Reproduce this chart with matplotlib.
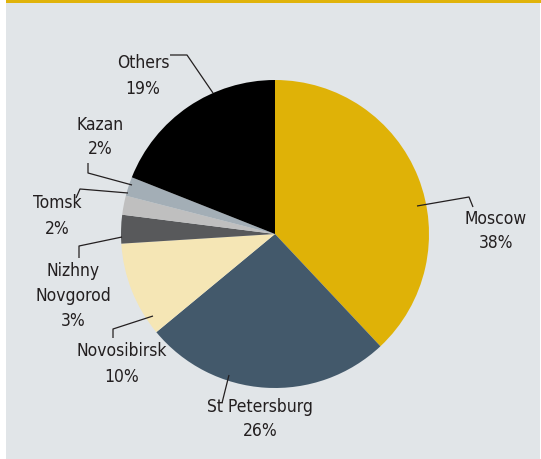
import matplotlib
matplotlib.use("Agg")
import matplotlib.pyplot as plt
import matplotlib.patches as patches

# ---------- Data ----------
cities = ["Moscow", "St Petersburg", "Novosibirsk", "Nizhny\nNovgorod", "Tomsk", "Kazan", "Others"]
shares = [38, 26, 10, 3, 2, 2, 19]
colors = ["#dfb207", "#43596b", "#f5e6b5", "#58595b", "#bfbfbf", "#a3aeb6", "#000000"]

# ---------- Style ----------
W, H = 541, 459
BG = "#e1e5e8"
GOLD = "#e0b30a"
TEXT = "#231f20"

fig = plt.figure(figsize=(W / 100, H / 100), dpi=100)
fig.patch.set_facecolor("white")
ax = fig.add_axes([0, 0, 1, 1])


def Y(py):
    # image pixel row -> data y
    return H - py


# ---------- Pie ----------
ax.pie(shares, colors=colors, startangle=90, counterclock=False,
       center=(275, Y(234)), radius=154, frame=True,
       wedgeprops=dict(linewidth=0))
ax.set_xlim(0, W)
ax.set_ylim(0, H)
ax.set_aspect("auto")
ax.axis("off")

# panel and top rule
ax.add_patch(patches.Rectangle((6, 0), W - 7, H, facecolor=BG, edgecolor="none", zorder=-2))
ax.add_patch(patches.Rectangle((6, Y(3)), W - 6, 3, facecolor=GOLD, edgecolor="none", zorder=1))

# ---------- Labels with leader lines ----------
label_pos = {
    "Moscow": (496, 231),
    "St Petersburg": (260, 419),
    "Novosibirsk": (122, 364),
    "Nizhny\nNovgorod": (73, 296),
    "Tomsk": (57, 216),
    "Kazan": (100, 137),
    "Others": (143, 76),
}
leaders = {
    "Moscow": [(417, 206), (469, 197), (473, 207)],
    "St Petersburg": [(229, 375), (222, 403)],
    "Novosibirsk": [(153, 316), (113, 329), (113, 338)],
    "Nizhny\nNovgorod": [(122, 237), (79, 246), (79, 258)],
    "Tomsk": [(128, 193), (80, 189), (76, 198)],
    "Kazan": [(132, 185), (88, 173), (88, 163)],
    "Others": [(213, 93), (187, 55), (170, 55)],
}

for name, val in zip(cities, shares):
    tx, ty = label_pos[name]
    ax.text(tx, Y(ty), f"{name}\n{val}%", ha="center", va="center",
            fontsize=12.5, color=TEXT, family="DejaVu Sans",
            fontstretch="condensed", linespacing=1.5)
    pts = leaders[name]
    ax.plot([p[0] for p in pts], [Y(p[1]) for p in pts],
            color=TEXT, lw=0.9, solid_capstyle="butt")

fig.savefig("out.png", dpi=100, facecolor="white")
